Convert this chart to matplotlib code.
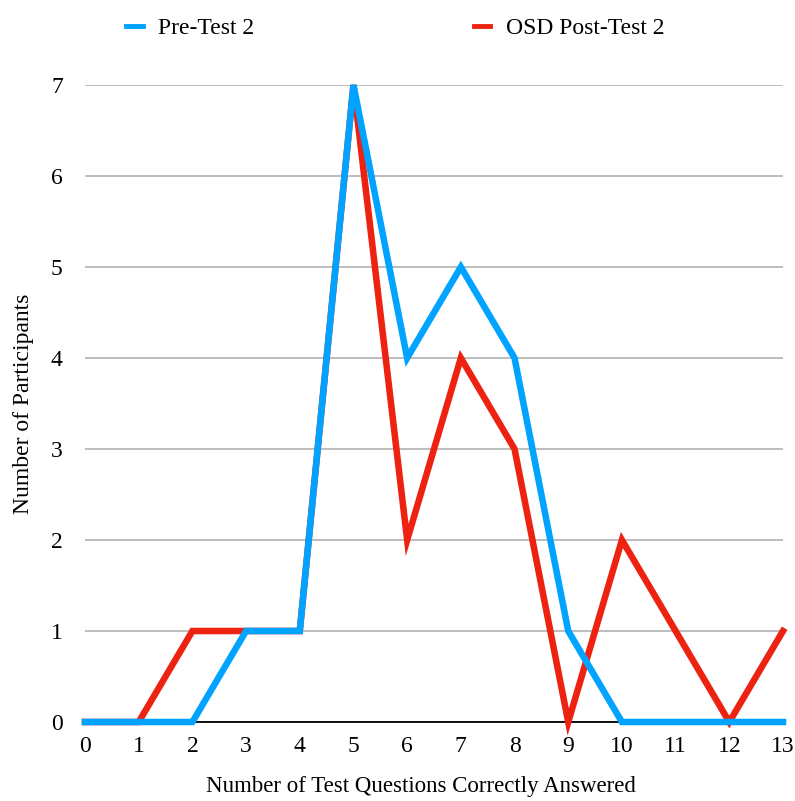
import matplotlib
matplotlib.use("Agg")
import matplotlib.pyplot as plt

x_values = list(range(0, 14))
pre_test = [0, 0, 0, 1, 1, 7, 4, 5, 4, 1, 0, 0, 0, 0]
post_test = [0, 0, 1, 1, 1, 7, 2, 4, 3, 0, 2, 1, 0, 1]
series_names = ["Pre-Test 2", "OSD Post-Test 2"]
y_ticks = list(range(0, 8))

plt.rcParams['font.family'] = ['Liberation Serif', 'DejaVu Serif']

fig = plt.figure(figsize=(7.95, 8.01), dpi=100)
ax = fig.add_axes([85/795, 79/801, (783-85)/795, (722-85)/801])

red, = ax.plot(x_values, post_test, color='#ee2211', lw=4.7, clip_on=False,
               solid_joinstyle='miter', zorder=3, label=series_names[1])
blue, = ax.plot(x_values, pre_test, color='#00a3ff', lw=4.7, clip_on=False,
                solid_joinstyle='miter', zorder=4, label=series_names[0])

ax.set_xlim(0, 13)
ax.set_ylim(0, 7)
ax.set_xticks(x_values)
ax.set_yticks(y_ticks)
ax.grid(axis='y', color='#b7b7b7', lw=1.3)
ax.set_axisbelow(True)
for s in ['top', 'right', 'left']:
    ax.spines[s].set_visible(False)
ax.spines['bottom'].set_color('black')
ax.spines['bottom'].set_linewidth(1.3)
ax.tick_params(length=0, labelsize=17, pad=10)
ax.tick_params(axis='y', pad=16)
ax.set_xlabel("Number of Test Questions Correctly Answered", fontsize=16.5)
ax.xaxis.set_label_coords(0.482, -0.084)
ax.set_ylabel("Number of Participants", fontsize=17, labelpad=12)

leg = fig.legend(handles=[blue, red], labels=series_names, loc='upper left',
                 bbox_to_anchor=(105/795, 1.005), ncol=2, frameon=False,
                 fontsize=17, handlelength=0.7, handletextpad=0.65,
                 columnspacing=9.3)
for h in leg.legend_handles:
    h.set_linewidth(3.5)

fig.savefig("out.png", dpi=100)
